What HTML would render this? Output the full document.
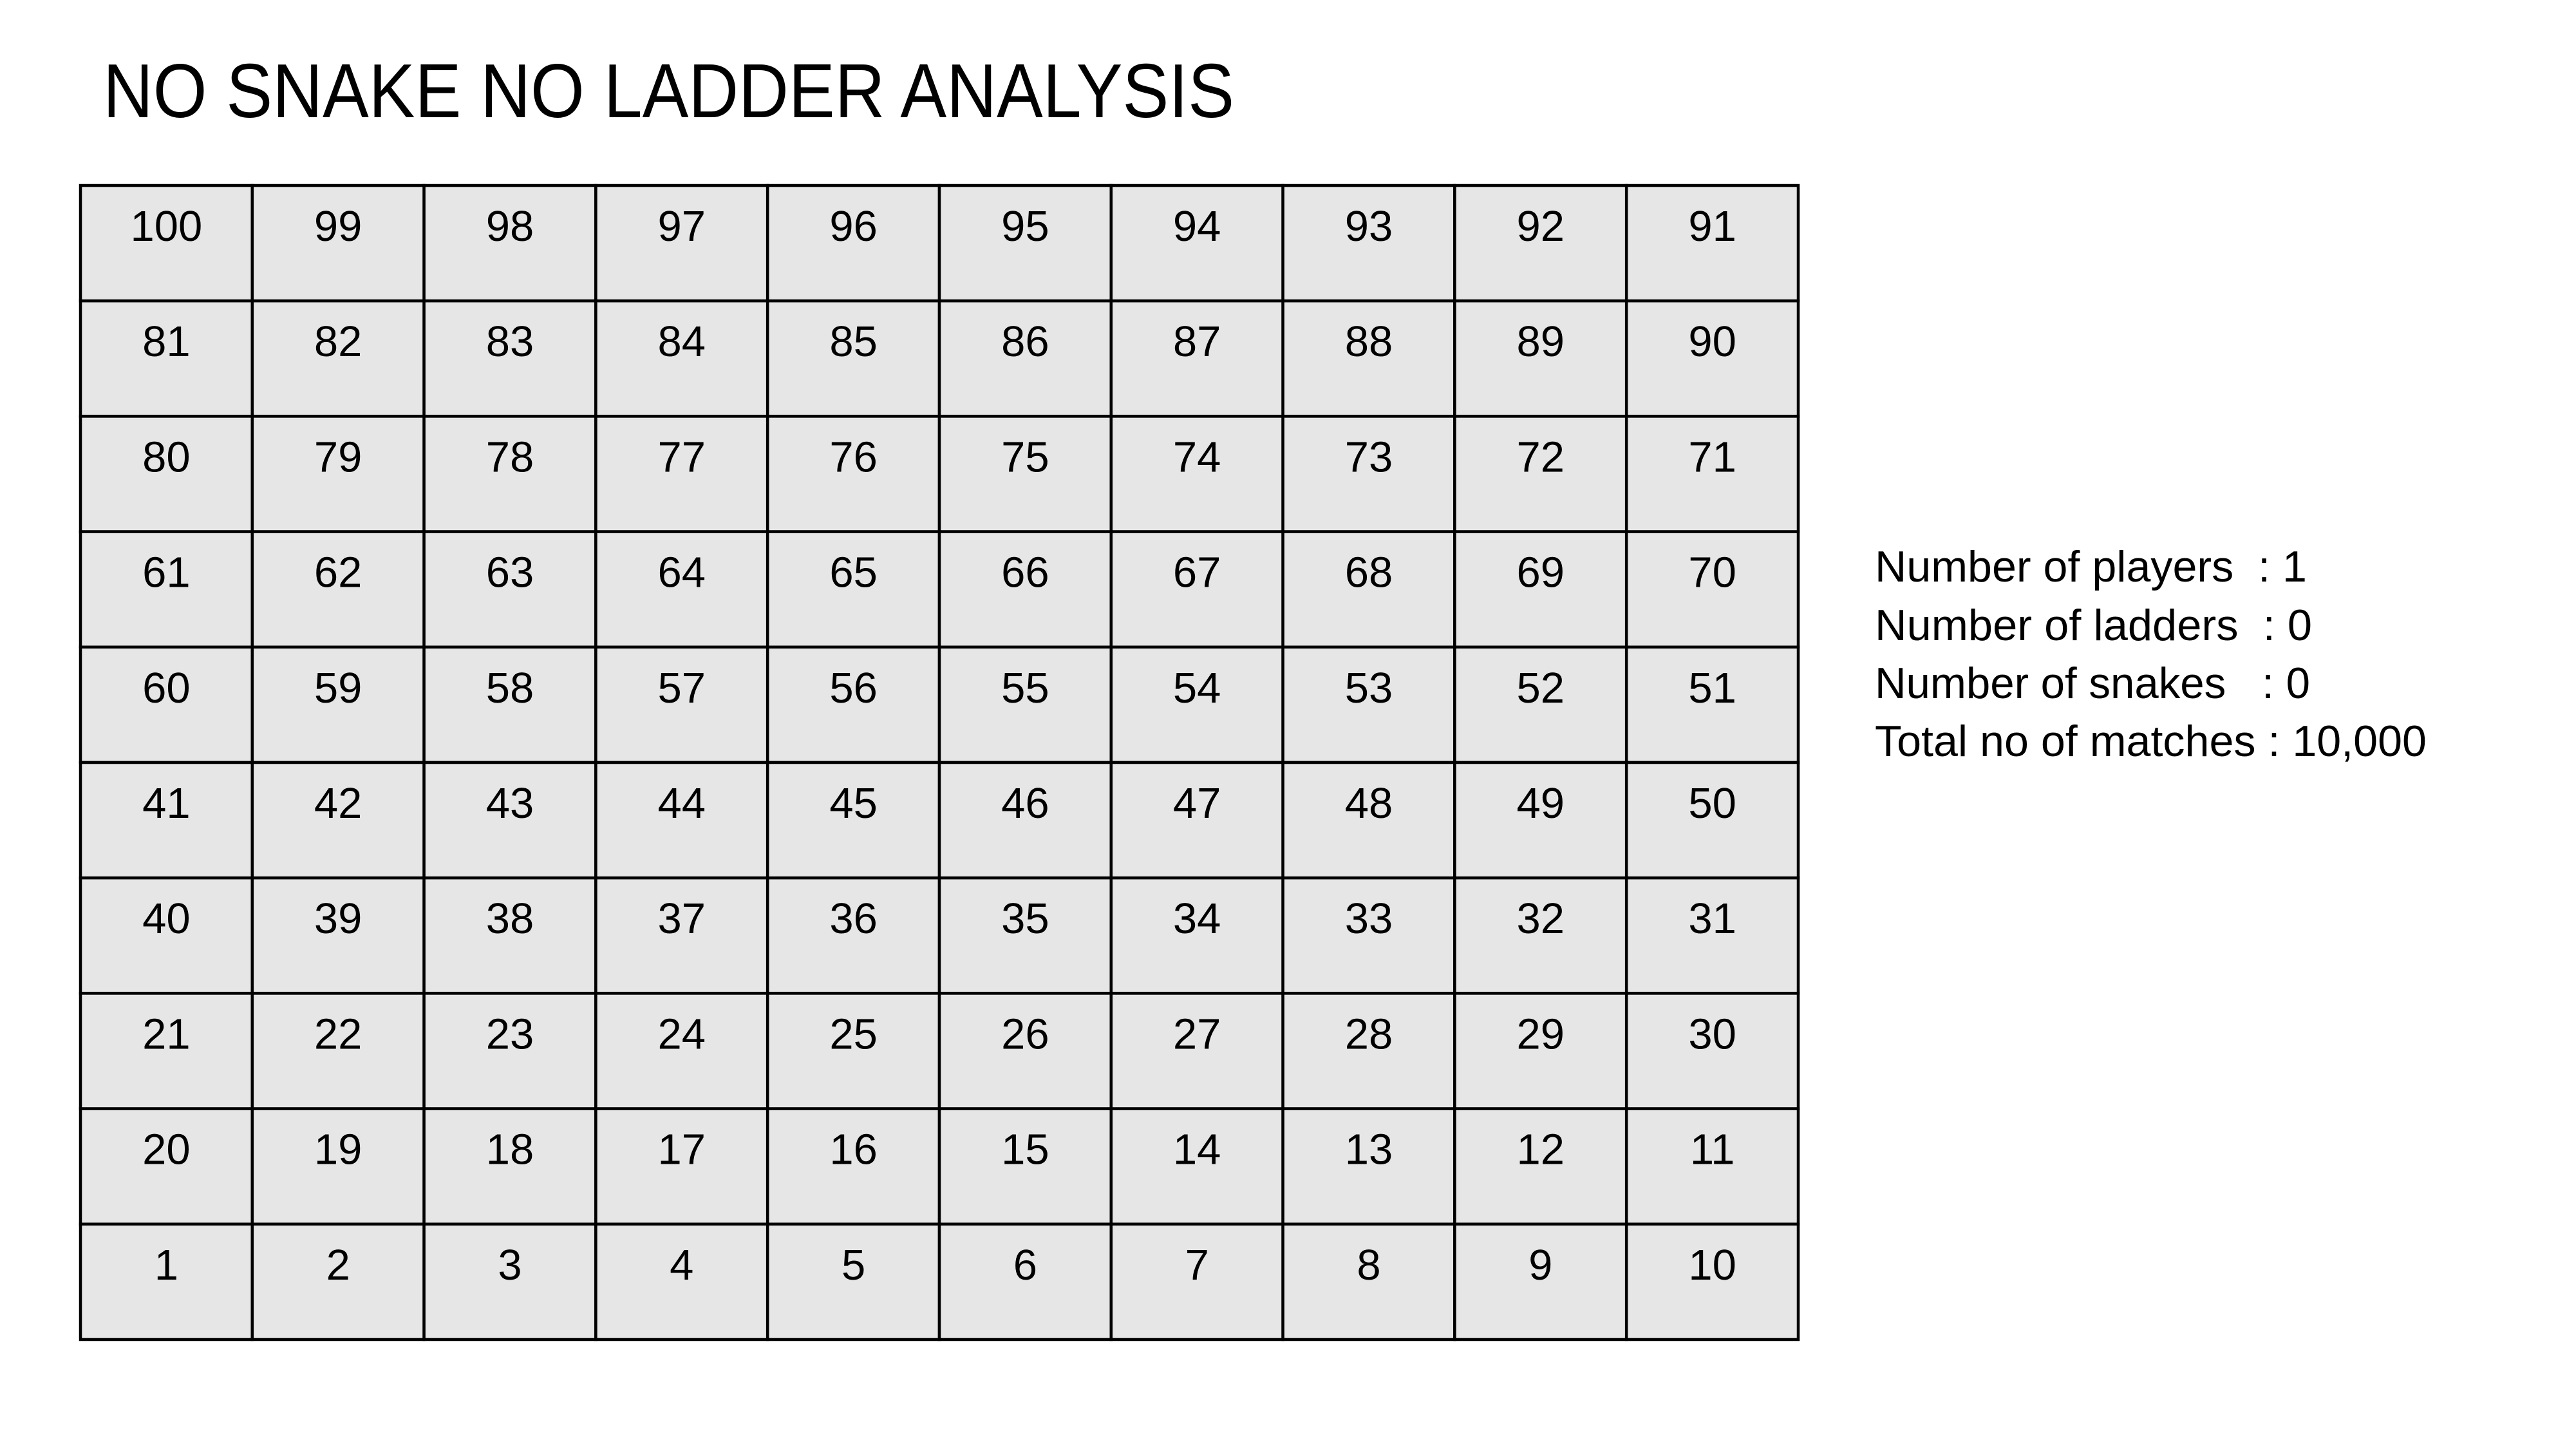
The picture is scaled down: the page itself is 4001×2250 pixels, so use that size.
<!DOCTYPE html>
<html><head><meta charset="utf-8"><style>
html,body{margin:0;padding:0;background:#fff;}
svg{display:block;font-family:"Liberation Sans",sans-serif;}
.pre{white-space:pre;}
</style></head><body>
<svg id="chart" width="4001" height="2250" viewBox="0 0 4001 2250">
<text x="160" y="182" font-size="119" fill="#000" textLength="1757" lengthAdjust="spacingAndGlyphs">NO SNAKE NO LADDER ANALYSIS</text>
<g id="board"></g>
<g font-size="68" fill="#000">
<text class="pre" xml:space="preserve" x="2912" y="903" textLength="671" lengthAdjust="spacingAndGlyphs">Number of players  : 1</text>
<text class="pre" xml:space="preserve" x="2912" y="994" textLength="679" lengthAdjust="spacingAndGlyphs">Number of ladders  : 0</text>
<text class="pre" xml:space="preserve" x="2912" y="1084" textLength="676" lengthAdjust="spacingAndGlyphs">Number of snakes   : 0</text>
<text class="pre" xml:space="preserve" x="2912" y="1174" textLength="857" lengthAdjust="spacingAndGlyphs">Total no of matches : 10,000</text>
</g>
</svg>
<script>
const rowStarts = [100, 81, 80, 61, 60, 41, 40, 21, 20, 1];
const rowDirections = [-1, 1, -1, 1, -1, 1, -1, 1, -1, 1];
const colCount = 10;
const NS = "http://www.w3.org/2000/svg";
const g = document.getElementById("board");
const X0 = 125, X1 = 2793, Y0 = 288, Y1 = 2080;
const cw = (X1 - X0) / colCount, rh = (Y1 - Y0) / rowStarts.length;
rowStarts.forEach((start, r) => {
  for (let c = 0; c < colCount; c++) {
    const val = start + rowDirections[r] * c;
    const rect = document.createElementNS(NS, "rect");
    rect.setAttribute("x", X0 + c * cw);
    rect.setAttribute("y", Y0 + r * rh);
    rect.setAttribute("width", cw);
    rect.setAttribute("height", rh);
    rect.setAttribute("fill", "#e6e6e6");
    rect.setAttribute("stroke", "#000");
    rect.setAttribute("stroke-width", "4.5");
    
    
    g.appendChild(rect);
    const t = document.createElementNS(NS, "text");
    t.setAttribute("x", X0 + c * cw + cw / 2);
    t.setAttribute("y", Y0 + r * rh + 86);
    t.setAttribute("text-anchor", "middle");
    t.setAttribute("font-size", "67");
    t.setAttribute("fill", "#000");
    t.textContent = val;
    
    
    g.appendChild(t);
  }
});
</script>
</body></html>
